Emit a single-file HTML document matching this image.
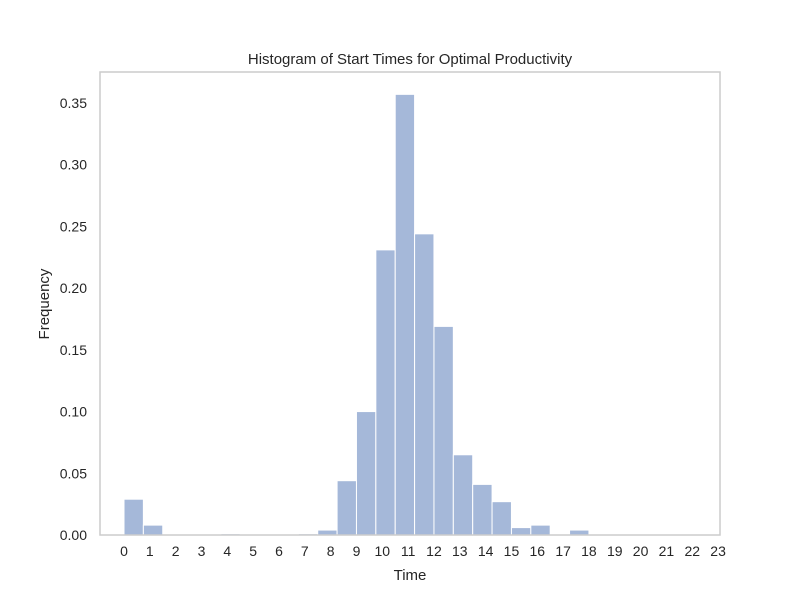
<!DOCTYPE html>
<html><head><meta charset="utf-8"><style>
body{margin:0;background:#fff;}
svg text{font-family:"Liberation Sans",sans-serif;fill:#262626;}
</style></head><body>
<svg width="800" height="600" xmlns="http://www.w3.org/2000/svg" id="chart">
<text x="410" y="64" text-anchor="middle" font-size="15">Histogram of Start Times for Optimal Productivity</text>
<g id="bars"></g>
<rect x="100" y="72" width="620" height="463" fill="none" stroke="#cccccc" stroke-width="1.5"/>
<g id="xticks"></g>
<g id="yticks"></g>
<text x="410" y="580" text-anchor="middle" font-size="15">Time</text>
<text x="0" y="0" transform="translate(49,304) rotate(-90)" text-anchor="middle" font-size="15">Frequency</text>
</svg>
<script>
const binStart = 0;
const binWidth = 0.75;
const freqs = [0.029,0.008,0,0,0,0.001,0,0,0,0.001,0.004,0.044,0.100,0.231,0.357,0.244,0.169,0.065,0.041,0.027,0.006,0.008,0,0.004,0,0,0,0,0,0,0];
const xTicks = [0,1,2,3,4,5,6,7,8,9,10,11,12,13,14,15,16,17,18,19,20,21,22,23];
const yTicks = [0,0.05,0.10,0.15,0.20,0.25,0.30,0.35];
const NS="http://www.w3.org/2000/svg";
function xs(v){return 124+v*25.83;}
function ys(v){return 535-v*(432/0.35);}
const bars=document.getElementById('bars');
freqs.forEach((f,i)=>{
  if(f<=0) return;
  const x0=xs(binStart+i*binWidth), x1=xs(binStart+(i+1)*binWidth);
  const r=document.createElementNS(NS,'rect');
  r.setAttribute('x',x0);r.setAttribute('width',x1-x0);
  r.setAttribute('y',ys(f));r.setAttribute('height',ys(0)-ys(f));
  r.setAttribute('fill','#a5b8d9');r.setAttribute('stroke','#ffffff');r.setAttribute('stroke-width','1');
  
  
  bars.appendChild(r);
});
const xg=document.getElementById('xticks');
xTicks.forEach(t=>{
  const tx=document.createElementNS(NS,'text');
  tx.setAttribute('x',xs(t));tx.setAttribute('y',556);
  tx.setAttribute('text-anchor','middle');tx.setAttribute('font-size','14');
  tx.textContent=t;
  
  
  xg.appendChild(tx);
});
const yg=document.getElementById('yticks');
yTicks.forEach(t=>{
  const tx=document.createElementNS(NS,'text');
  tx.setAttribute('x',87);tx.setAttribute('y',ys(t)+5);
  tx.setAttribute('text-anchor','end');tx.setAttribute('font-size','14');
  tx.textContent=t.toFixed(2);
  
  
  yg.appendChild(tx);
});
</script>
</body></html>
